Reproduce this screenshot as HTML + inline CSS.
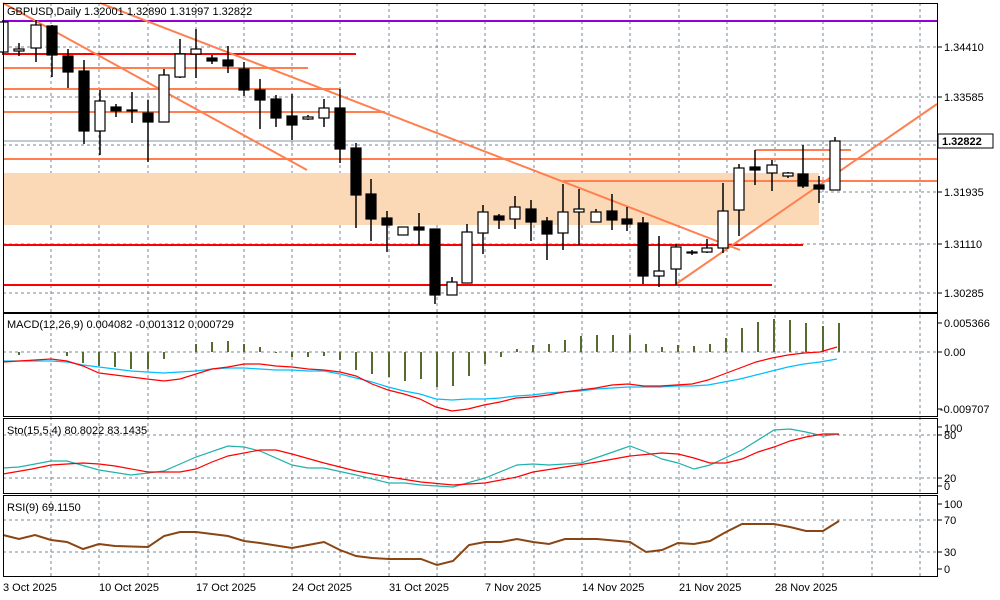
<!DOCTYPE html>
<html><head><meta charset="utf-8"><style>
body{margin:0;background:#fff;width:1000px;height:600px;overflow:hidden}
svg{display:block;font-family:"Liberation Sans",sans-serif;font-size:11px}
</style></head><body>
<svg width="1000" height="600" viewBox="0 0 1000 600">
<rect width="1000" height="600" fill="#fff"/>
<!-- vertical grid -->
<g stroke="#778899" stroke-dasharray="3,3" stroke-width="1">
<path d="M51 3V576M99 3V576M148 3V576M196 3V576M244 3V576M292 3V576M340 3V576M389 3V576M437 3V576M485 3V576M534 3V576M582 3V576M630 3V576M679 3V576M727 3V576M775 3V576M823 3V576M872 3V576M920 3V576"/>
<path d="M3 47H937M3 97H937M3 145H937M3 192H937M3 244H937M3 293H937"/>
<path d="M3 352H937M3 435H937M3 478H937M3 520H937M3 552H937"/>
</g>
<line x1="3" y1="141" x2="937" y2="141" stroke="#8a96a3" stroke-width="1"/>
<!-- zone -->
<rect x="3" y="173" width="816" height="52" fill="#fcd9b6"/>
<!-- horizontal levels -->
<g stroke-width="2">
<line x1="3" y1="21" x2="937" y2="21" stroke="#9400d3"/>
<line x1="3" y1="54" x2="356" y2="54" stroke="#f00"/>
<line x1="3" y1="245" x2="803" y2="245" stroke="#f00"/>
<line x1="3" y1="285" x2="772" y2="285" stroke="#f00"/>
<g stroke="#ff7f50">
<line x1="3" y1="68" x2="308" y2="68"/>
<line x1="3" y1="89" x2="340" y2="89"/>
<line x1="3" y1="112" x2="385" y2="112"/>
<line x1="3" y1="159" x2="937" y2="159"/>
<line x1="563" y1="181" x2="937" y2="181"/>
<line x1="755" y1="150" x2="851" y2="150"/>
<line x1="3" y1="3" x2="307" y2="170"/>
<line x1="100" y1="3" x2="740" y2="250"/>
<line x1="676" y1="284" x2="937" y2="104"/>
</g></g>
<!-- candles -->
<g stroke="#000" stroke-width="1.5">
<path d="M3 20V55M19 43V56M36 20V62M52 25V77M68 49V88M84 60V144M100 90V155M116 104V117M132 92V123M148 100V162M164 69V122M180 39V78M196 29V78M212 55V64M228 46V73M244 62V96M260 79V129M276 95V127M292 94V140M308 115V120M324 99V127M340 89V163M356 143V228M371 179V241M387 211V252M403 227V235M419 213V245M435 229V304M452 277V295M467 224V283M483 205V254M499 214V229M515 196V229M531 200V241M547 217V260M563 184V250M579 189V245M596 209V222M612 194V230M627 207V231M643 217V284M659 236V287M676 244V285M692 250V255M707 239V253M723 183V253M739 164V236M755 150V185M772 160V191M788 172V178M803 145V188M819 176V203M835 137V190"/>
</g>
<g stroke="#000" stroke-width="1.2">
<g fill="#fff">
<rect x="-2" y="22" width="10" height="30"/><rect x="14" y="49" width="10" height="2"/><rect x="31" y="25" width="10" height="23"/><rect x="95" y="101" width="10" height="30"/><rect x="127" y="110" width="10" height="1"/><rect x="159" y="75" width="10" height="47"/><rect x="175" y="54" width="10" height="23"/><rect x="191" y="49" width="10" height="5"/><rect x="303" y="117" width="10" height="2"/><rect x="319" y="108" width="10" height="10"/><rect x="398" y="227" width="10" height="8"/><rect x="447" y="282" width="10" height="13"/><rect x="462" y="232" width="10" height="51"/><rect x="478" y="212" width="10" height="21"/><rect x="510" y="207" width="10" height="12"/><rect x="558" y="212" width="10" height="21"/><rect x="574" y="209" width="10" height="3"/><rect x="591" y="212" width="10" height="10"/><rect x="654" y="271" width="10" height="5"/><rect x="671" y="247" width="10" height="22"/><rect x="687" y="252" width="10" height="1"/><rect x="702" y="248" width="10" height="4"/><rect x="718" y="211" width="10" height="37"/><rect x="734" y="168" width="10" height="42"/><rect x="767" y="165" width="10" height="8"/><rect x="783" y="173" width="10" height="3"/><rect x="830" y="141" width="10" height="49"/>
</g>
<g fill="#000">
<rect x="47" y="26" width="10" height="29"/><rect x="63" y="56" width="10" height="16"/><rect x="79" y="71" width="10" height="60"/><rect x="111" y="107" width="10" height="4"/><rect x="143" y="113" width="10" height="9"/><rect x="207" y="58" width="10" height="3"/><rect x="223" y="60" width="10" height="6"/><rect x="239" y="69" width="10" height="21"/><rect x="255" y="90" width="10" height="10"/><rect x="271" y="99" width="10" height="19"/><rect x="287" y="116" width="10" height="9"/><rect x="335" y="108" width="10" height="41"/><rect x="351" y="148" width="10" height="47"/><rect x="366" y="194" width="10" height="25"/><rect x="382" y="218" width="10" height="7"/><rect x="414" y="227" width="10" height="3"/><rect x="430" y="229" width="10" height="66"/><rect x="494" y="216" width="10" height="4"/><rect x="526" y="209" width="10" height="13"/><rect x="542" y="221" width="10" height="13"/><rect x="607" y="211" width="10" height="9"/><rect x="622" y="219" width="10" height="5"/><rect x="638" y="223" width="10" height="53"/><rect x="750" y="167" width="10" height="3"/><rect x="798" y="174" width="10" height="12"/><rect x="814" y="185" width="10" height="4"/>
</g></g>
<!-- MACD histogram -->
<g stroke="#556b2f" stroke-width="2">
<path d="M19 352V355M67 352V356M83 352V363M99 352V366M115 352V367M131 352V369M148 352V369M164 352V359M196 352V344M212 352V342M228 352V341M244 352V344M260 352V347M276 352V353M292 352V357M308 352V357M324 352V356M340 352V360M356 352V370M372 352V374M389 352V377M405 352V381M421 352V379M437 352V387M453 352V386M469 352V376M485 352V364M501 352V357M517 352V349M533 352V345M549 352V344M565 352V340M581 352V336M597 352V335M613 352V335M630 352V335M646 352V344M662 352V347M678 352V345M694 352V346M710 352V344M726 352V338M742 352V328M758 352V322M774 352V319M790 352V320M806 352V323M823 352V326M839 352V323"/>
</g>
<polyline fill="none" stroke="#00bfff" stroke-width="1.2" points="3,361 19,361 35,361 51,361 67,362 83,365 99,367 115,369 131,371 147,372 164,373 180,372 196,371 212,369 228,368 244,368 260,369 276,370 292,370 308,371 324,371 340,374 356,378 372,382 388,387 404,391 420,394 436,399 452,400 468,399 484,399 500,398 516,396 532,395 548,393 564,392 580,391 596,389 612,388 628,387 644,387 660,387 676,386 692,386 708,385 724,382 740,379 756,375 772,371 788,367 804,364 820,362 837,359"/>
<polyline fill="none" stroke="#f00" stroke-width="1.2" points="3,362 19,361 35,360 51,359 67,361 83,366 99,373 115,375 131,377 147,379 164,381 180,379 196,374 212,369 228,367 244,364 260,364 276,366 292,367 308,369 324,370 340,372 356,376 372,384 388,390 404,394 420,399 436,407 452,411 468,409 484,405 500,402 516,398 532,397 548,395 564,392 580,390 596,388 612,385 628,384 644,386 660,386 676,385 692,384 708,380 724,374 740,368 756,362 772,358 788,355 804,353 820,352 837,347"/>
<!-- Sto -->
<polyline fill="none" stroke="#20b2aa" stroke-width="1.2" points="3,468 19,467 51,461 67,461 99,470 131,475 148,473 164,471 196,457 228,446 244,447 260,451 292,465 308,468 324,468 356,475 389,483 405,483 421,485 453,487 485,478 517,465 533,464 549,465 581,463 613,452 630,446 646,452 662,459 678,463 694,469 710,465 742,450 774,430 790,429 806,432 823,436 839,434"/>
<polyline fill="none" stroke="#f00" stroke-width="1.2" points="3,474 32,469 51,465 83,463 99,464 115,466 148,472 180,472 196,469 212,462 228,456 260,450 276,450 292,454 324,463 356,471 389,477 421,482 453,485 485,483 517,477 533,472 565,467 597,462 630,456 662,453 678,454 694,458 710,463 726,463 742,459 758,452 774,447 790,441 806,437 823,434 839,434"/>
<!-- RSI -->
<polyline fill="none" stroke="#8b4513" stroke-width="2" points="3,535 19,539 35,535 51,540 67,542 83,549 99,544 115,546 148,547 164,536 180,532 196,532 228,536 244,541 260,543 292,548 308,545 324,542 340,550 356,556 372,558 389,559 421,559 437,565 453,561 469,545 485,542 501,542 517,539 533,542 549,544 565,539 597,539 630,542 646,552 662,550 678,543 694,544 710,541 726,532 742,524 774,524 790,527 806,531 823,531 839,521"/>
<!-- panel borders -->
<g stroke="#000" stroke-width="1" fill="none">
<rect x="3.5" y="3.5" width="934" height="309"/>
<rect x="3.5" y="313.5" width="934" height="103"/>
<rect x="3.5" y="418.5" width="934" height="75"/>
<rect x="3.5" y="495.5" width="934" height="81"/>
</g>
<g stroke="#000"><path d="M937 47h5M937 97h5M937 192h5M937 244h5M937 293h5M937 323h5M937 352h5M937 409h5M937 427h5M937 435h5M937 478h5M937 486h5M937 504h5M937 520h5M937 552h5M937 569h5"/></g>
<rect x="938" y="134" width="55" height="14" fill="#fff" stroke="#000"/>
<g fill="#000">
<text x="7" y="15">GBPUSD,Daily  1.32001 1.32890 1.31997 1.32822</text>
<text x="7" y="328">MACD(12,26,9) 0.004082 -0.001312 0.000729</text>
<text x="7" y="434">Sto(15,5,4) 80.8022 83.1435</text>
<text x="7" y="511">RSI(9) 69.1150</text>
<text x="944" y="51">1.34410</text>
<text x="944" y="101">1.33585</text>
<text x="942" y="145" font-weight="bold">1.32822</text>
<text x="944" y="196">1.31935</text>
<text x="944" y="248">1.31110</text>
<text x="944" y="297">1.30285</text>
<text x="944" y="327">0.005366</text>
<text x="944" y="356">0.00</text>
<text x="940" y="413">-0.009707</text>
<text x="944" y="432">100</text>
<text x="944" y="439">80</text>
<text x="944" y="482">20</text>
<text x="944" y="490">0</text>
<text x="944" y="508">100</text>
<text x="944" y="524">70</text>
<text x="944" y="556">30</text>
<text x="944" y="573">0</text>
<text x="3" y="591">3 Oct 2025</text>
<text x="99" y="591">10 Oct 2025</text>
<text x="196" y="591">17 Oct 2025</text>
<text x="292" y="591">24 Oct 2025</text>
<text x="389" y="591">31 Oct 2025</text>
<text x="485" y="591">7 Nov 2025</text>
<text x="582" y="591">14 Nov 2025</text>
<text x="679" y="591">21 Nov 2025</text>
<text x="775" y="591">28 Nov 2025</text>
</g>
</svg>
</body></html>
